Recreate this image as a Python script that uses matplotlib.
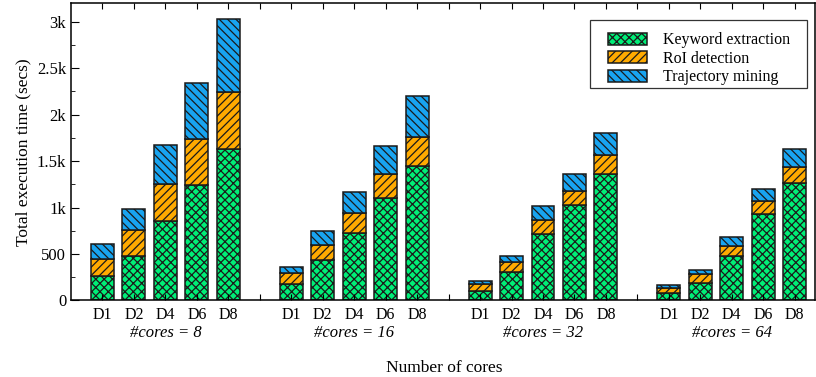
import numpy as np
import matplotlib
matplotlib.use("Agg")
import matplotlib.pyplot as plt
from matplotlib.patches import Rectangle

plt.rcParams['font.family'] = ['Liberation Serif', 'DejaVu Serif']
plt.rcParams['hatch.linewidth'] = 0.9

datasets = ["D1", "D2", "D4", "D6", "D8"]
cores = [8, 16, 32, 64]

# cumulative tops, one row per core count
keyword = [[263, 478, 851, 1238, 1626],
           [174, 432, 726, 1099, 1446],
           [99, 306, 712, 1024, 1360],
           [77, 188, 475, 930, 1263]]
roi_top = [[443, 755, 1249, 1733, 2239],
           [292, 600, 944, 1360, 1761],
           [177, 411, 866, 1181, 1561],
           [131, 285, 589, 1067, 1432]]
total = [[604, 981, 1672, 2335, 3030],
         [357, 747, 1163, 1665, 2199],
         [213, 475, 1016, 1357, 1798],
         [163, 331, 680, 1196, 1629]]

keyword = np.array(keyword, dtype=float)
roi = np.array(roi_top, dtype=float) - keyword
traj = np.array(total, dtype=float) - np.array(roi_top, dtype=float)

c_green = '#00ee77'
c_orange = '#ffaa00'
c_blue = '#18a4f0'
edge = '#1a1a1a'

fig = plt.figure(figsize=(8.16, 3.77), dpi=100)
ax = fig.add_axes([0.087, 0.203, 0.912, 0.789])

n = len(datasets)
w = 0.73
for g in range(len(cores)):
    x = np.arange(n) + g * (n + 1)
    kw = dict(width=w, edgecolor=edge, linewidth=1.1)
    ax.bar(x, keyword[g], color=c_green, hatch='xxxx',
           label='Keyword extraction' if g == 0 else None, **kw)
    ax.bar(x, roi[g], bottom=keyword[g], color=c_orange, hatch='////',
           label='RoI detection' if g == 0 else None, **kw)
    ax.bar(x, traj[g], bottom=keyword[g] + roi[g], color=c_blue, hatch='\\\\\\\\',
           label='Trajectory mining' if g == 0 else None, **kw)
    for i, d in enumerate(datasets):
        ax.text(x[i], -75, d, ha='center', va='top', fontsize=11.5)
    ax.text(x[2], -265, '#cores = %d' % cores[g], ha='center', va='top',
            fontsize=12, style='italic')

ax.set_xlim(-1, 22.65)
ax.set_ylim(0, 3200)
ax.set_xticks(np.arange(0, 23))
ax.set_xticklabels([])
ax.set_yticks([0, 500, 1000, 1500, 2000, 2500, 3000])
ax.set_yticklabels(['0', '500', '1k', '1.5k', '2k', '2.5k', '3k'], fontsize=12)
ax.set_yticks(np.arange(250, 3200, 500), minor=True)
ax.tick_params(axis='both', which='both', direction='in', top=True, right=False)
ax.tick_params(axis='x', length=4)
ax.tick_params(axis='y', which='major', length=6)
ax.tick_params(axis='y', which='minor', length=3)
for s in ax.spines.values():
    s.set_linewidth(1.1)

ax.set_ylabel('Total execution time (secs)', fontsize=12.5, labelpad=4)
fig.text(0.545, 0.002, 'Number of cores', ha='center', va='bottom', fontsize=12.5)

# legend box drawn by hand (gnuplot style: wider side margins than top/bottom)
ax.add_patch(Rectangle((0.6976, 0.714), 0.2916, 0.229, transform=ax.transAxes,
                       facecolor='white', edgecolor='#333333', linewidth=0.9,
                       zorder=4))
leg = ax.legend(loc='upper left', bbox_to_anchor=(0.7218, 0.902), fontsize=11.5,
                frameon=False, handlelength=2.45, handleheight=0.8,
                labelspacing=0.16, borderpad=0.0, handletextpad=1.0,
                borderaxespad=0.0)
leg.set_zorder(5)

fig.savefig('out.png', dpi=100)
